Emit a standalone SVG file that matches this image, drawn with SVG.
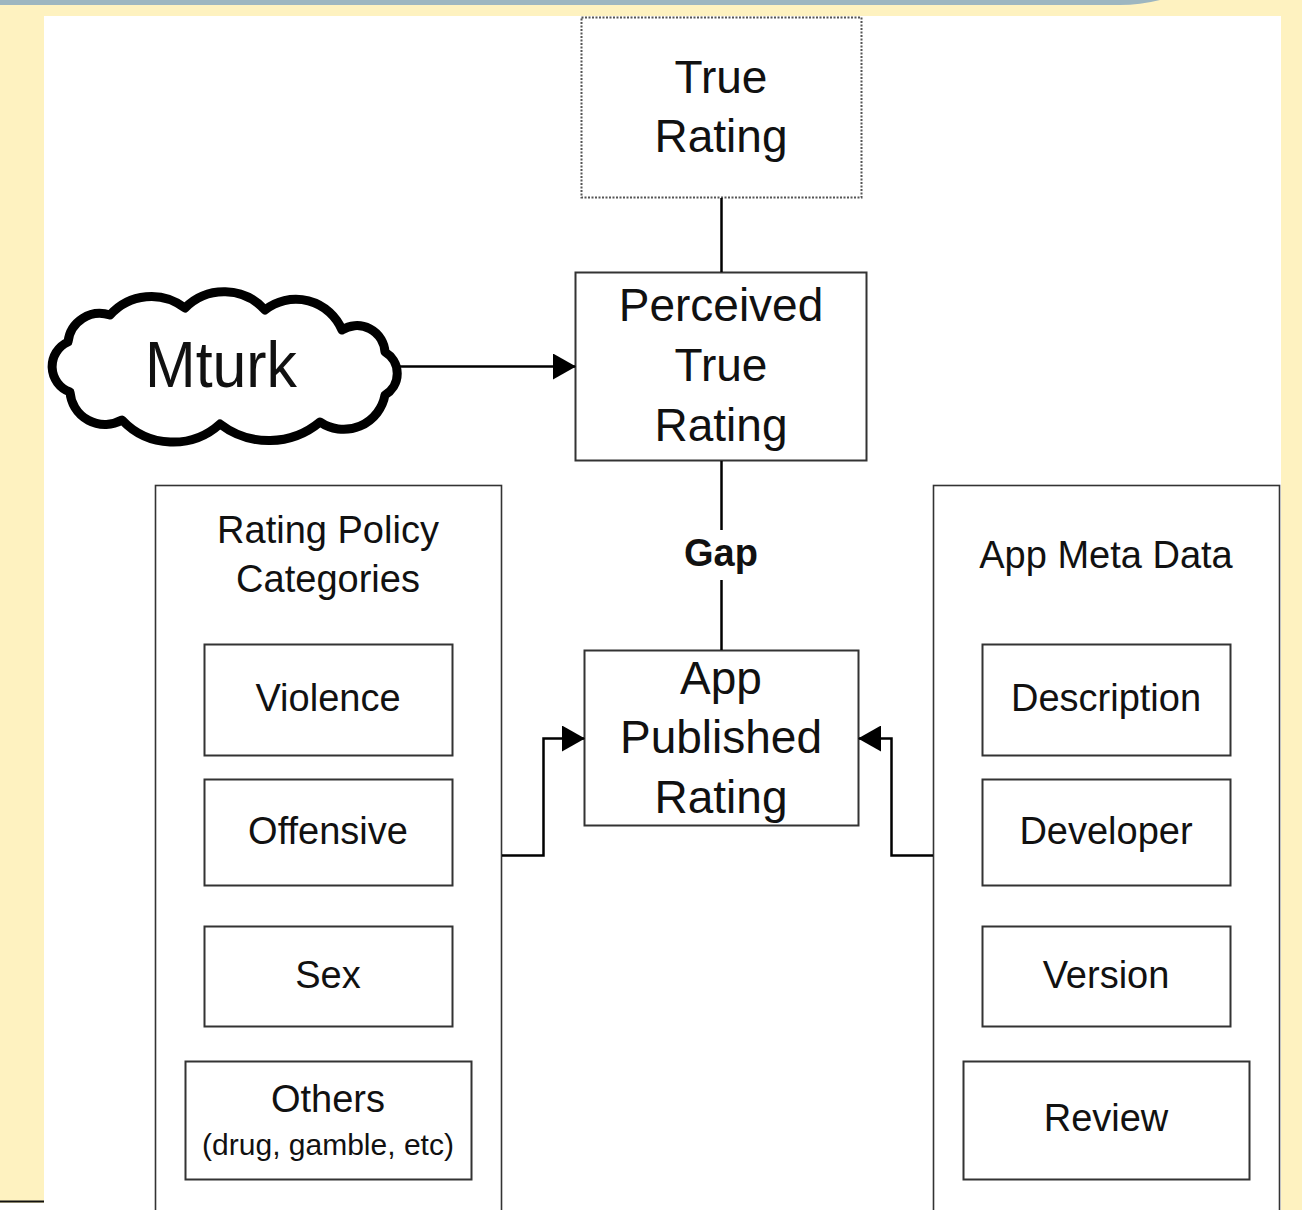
<svg xmlns="http://www.w3.org/2000/svg" width="1302" height="1210" viewBox="0 0 1302 1210">
<style>
text{font-family:"Liberation Sans",Arial,sans-serif;fill:#111;text-anchor:middle}
.box{fill:#fff;stroke:#333;stroke-width:2}
.cont{fill:#fff;stroke:#333;stroke-width:1.6}
.big{font-size:46px}
.mid{font-size:38px}
.con{fill:none;stroke:#000;stroke-width:2.5}
</style>
<defs>
<marker id="ah" markerUnits="userSpaceOnUse" markerWidth="24" markerHeight="26" refX="22" refY="13" orient="auto">
<path d="M0,0 L23,13 L0,26 Z" fill="#000"/>
</marker>
</defs>
<rect x="0" y="0" width="1302" height="1210" fill="#FEF2C0"/>
<path d="M0,0 H1160 Q1140,5 1120,5 H0 Z" fill="#9DB6C0"/>
<rect x="44" y="16" width="1237" height="1194" fill="#fff"/>
<rect x="0" y="1203" width="44" height="7" fill="#fff"/>
<line x1="0" y1="1201.5" x2="44" y2="1201.5" stroke="#111" stroke-width="2"/>

<g id="true-rating">
<rect x="581.5" y="17.5" width="280" height="180" fill="#fff" stroke="#555" stroke-width="2" stroke-dasharray="2,1.5"/>
<text class="big" x="721" y="93">True</text>
<text class="big" x="721" y="152">Rating</text>
</g>

<g id="perceived">
<rect class="box" x="575.5" y="272.5" width="291" height="188"/>
<text class="big" x="721" y="321">Perceived</text>
<text class="big" x="721" y="381">True</text>
<text class="big" x="721" y="441">Rating</text>
</g>

<g id="mturk">
<path d="M70,392 A27,27 0 0 1 68,342 A32,32 0 0 1 110,315 A55,55 0 0 1 185,308 A55,55 0 0 1 265,310 A50,50 0 0 1 342,330 A28,28 0 0 1 385,352 A25,25 0 0 1 385,395 A42,42 0 0 1 320,422 A80,80 0 0 1 220,424 A70,70 0 0 1 122,420 A35,35 0 0 1 70,392 Z" fill="#fff" stroke="#000" stroke-width="9" stroke-linejoin="round"/>
<text x="221" y="387" style="font-size:64px" textLength="152" lengthAdjust="spacingAndGlyphs">Mturk</text>
</g>

<g id="published">
<rect class="box" x="584.5" y="650.5" width="274" height="175"/>
<text class="big" x="721" y="694">App</text>
<text class="big" x="721" y="753">Published</text>
<text class="big" x="721" y="813">Rating</text>
</g>

<g id="policy">
<rect class="cont" x="155.5" y="485.5" width="346" height="740"/>
<text class="mid" x="328" y="543">Rating Policy</text>
<text class="mid" x="328" y="592">Categories</text>
</g>
<g id="violence"><rect class="box" x="204.5" y="644.5" width="248" height="111"/><text class="mid" x="328" y="711">Violence</text></g>
<g id="offensive"><rect class="box" x="204.5" y="779.5" width="248" height="106"/><text class="mid" x="328" y="844">Offensive</text></g>
<g id="sex"><rect class="box" x="204.5" y="926.5" width="248" height="100"/><text class="mid" x="328" y="988">Sex</text></g>
<g id="others"><rect class="box" x="185.5" y="1061.5" width="286" height="118"/><text class="mid" x="328" y="1112">Others</text><text x="328" y="1155" style="font-size:30px">(drug, gamble, etc)</text></g>

<g id="meta">
<rect class="cont" x="933.5" y="485.5" width="346" height="740"/>
<text class="mid" x="1106" y="568">App Meta Data</text>
</g>
<g id="description"><rect class="box" x="982.5" y="644.5" width="248" height="111"/><text class="mid" x="1106" y="711">Description</text></g>
<g id="developer"><rect class="box" x="982.5" y="779.5" width="248" height="106"/><text class="mid" x="1106" y="844">Developer</text></g>
<g id="version"><rect class="box" x="982.5" y="926.5" width="248" height="100"/><text class="mid" x="1106" y="988">Version</text></g>
<g id="review"><rect class="box" x="963.5" y="1061.5" width="286" height="118"/><text class="mid" x="1106" y="1131">Review</text></g>

<g id="connectors">
<line class="con" x1="396" y1="366.5" x2="575" y2="366.5" marker-end="url(#ah)"/>
<line class="con" x1="721.5" y1="198" x2="721.5" y2="272"/>
<line class="con" x1="721.5" y1="461" x2="721.5" y2="530"/>
<text x="721" y="566" style="font-size:38px;font-weight:bold">Gap</text>
<line class="con" x1="721.5" y1="580" x2="721.5" y2="650"/>
<polyline class="con" points="502,855.5 543.5,855.5 543.5,738.5 584,738.5" marker-end="url(#ah)"/>
<polyline class="con" points="933,855.5 891.5,855.5 891.5,738.5 859,738.5" marker-end="url(#ah)"/>
</g>
</svg>
